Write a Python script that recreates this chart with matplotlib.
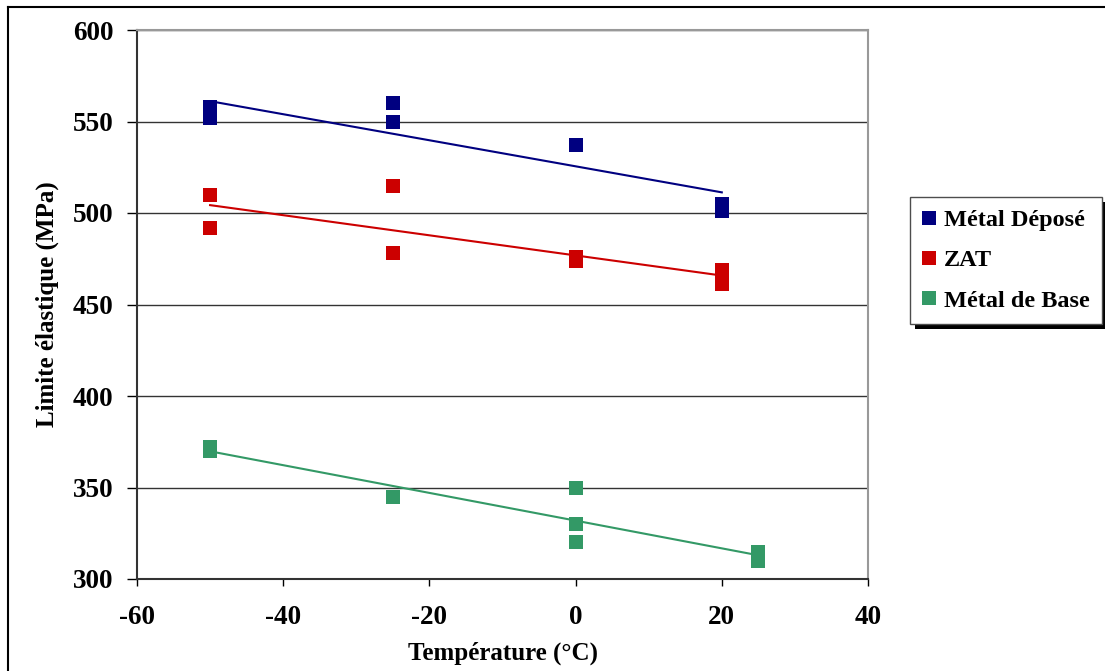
import numpy as np
import matplotlib
matplotlib.use("Agg")
import matplotlib.pyplot as plt
from matplotlib.lines import Line2D
from matplotlib.patches import Rectangle

# values
temp_depose = [-50, -50, -50, -25, -25, 0, 20, 20]
re_depose = [558, 555, 552, 560, 550, 537, 505, 501]

temp_zat = [-50, -50, -25, -25, 0, 0, 20, 20]
re_zat = [510, 492, 515, 478, 476, 474, 469, 461]

temp_base = [-50, -50, -25, 0, 0, 0, 25, 25]
re_base = [372, 370, 345, 350, 330, 320, 315, 310]

series_names = ["Métal Déposé", "ZAT", "Métal de Base"]
series_colors = ["#000080", "#CC0000", "#339966"]

x_ticks = [-60, -40, -20, 0, 20, 40]
y_ticks = [300, 350, 400, 450, 500, 550, 600]

plt.rcParams["font.family"] = ["Liberation Serif", "DejaVu Serif"]
plt.rcParams["font.weight"] = "bold"
plt.rcParams["axes.unicode_minus"] = False

W, H = 1105, 671
fig = plt.figure(figsize=(W / 100, H / 100), dpi=100)
ax = fig.add_axes([137 / W, 1 - 579 / H, (868 - 137) / W, (579 - 30) / H])

series = [(temp_depose, re_depose), (temp_zat, re_zat), (temp_base, re_base)]
for (xs, ys), name, col in zip(series, series_names, series_colors):
    ax.plot(xs, ys, "s", color=col, markersize=10, markeredgewidth=0,
            label=name, zorder=3)
    # linear trend line over the data range
    k, b = np.polyfit(xs, ys, 1)
    xx = np.array([min(xs), max(xs)])
    ax.plot(xx, k * xx + b, color=col, lw=1.5, zorder=2)

ax.set_xlim(-60, 40)
ax.set_ylim(300, 600)
ax.set_xticks(x_ticks)
ax.set_yticks(y_ticks)
ax.yaxis.grid(True, color="0.2", lw=1)
ax.set_axisbelow(True)

for s in ["top", "right"]:
    ax.spines[s].set_color("0.6")
    ax.spines[s].set_linewidth(1.5)
for s in ["left", "bottom"]:
    ax.spines[s].set_color("0.2")
    ax.spines[s].set_linewidth(1.5)

ax.tick_params(axis="y", direction="out", length=7, width=1, pad=10, labelsize=19.5)
ax.tick_params(axis="x", direction="out", length=5, width=1, pad=14, labelsize=19.5)

ax.set_xlabel("Température (°C)", fontsize=18, fontweight="bold", labelpad=8)
ax.set_ylabel("Limite élastique (MPa)", fontsize=18, fontweight="bold", labelpad=10)

# legend with a hard black shadow, like the Excel original
handles = [Line2D([], [], ls="none", marker="s", markersize=10, markeredgewidth=0, color=c)
           for c in series_colors]
leg = fig.legend(handles, series_names, loc="upper left",
                 bbox_to_anchor=(910 / W, 1 - 197 / H), fontsize=17.5,
                 frameon=True, fancybox=False, edgecolor="0.3",
                 facecolor="white", framealpha=1,
                 handlelength=0.6, handletextpad=0.3, labelspacing=0.75,
                 borderpad=0.5, borderaxespad=0)
leg.get_frame().set_linewidth(1)
fig.canvas.draw()
bb = leg.get_window_extent().transformed(fig.transFigure.inverted())
fig.patches.append(Rectangle((bb.x0 + 5 / W, bb.y0 - 5 / H), bb.width, bb.height,
                             transform=fig.transFigure, facecolor="black",
                             edgecolor="none", zorder=4))

# outer chart border (only top and left visible in the crop)
fig.add_artist(Line2D([8 / W, 8 / W], [0, 1 - 7 / H], color="black", lw=1.5,
                      transform=fig.transFigure))
fig.add_artist(Line2D([8 / W, 1], [1 - 7 / H, 1 - 7 / H], color="black", lw=1.5,
                      transform=fig.transFigure))

fig.savefig("out.png", dpi=100)
